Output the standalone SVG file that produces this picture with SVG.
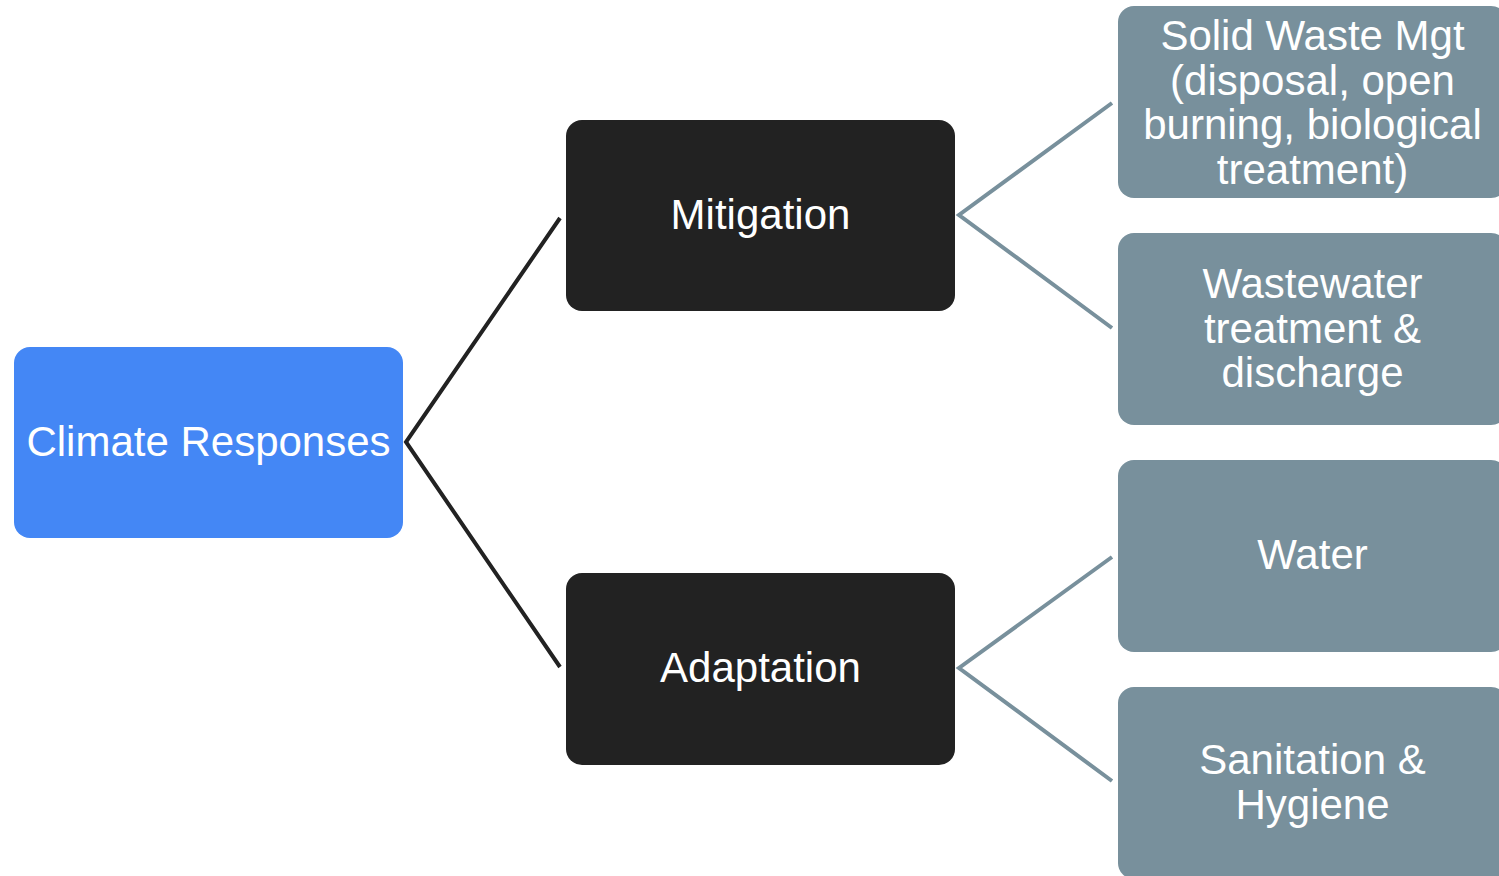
<svg xmlns="http://www.w3.org/2000/svg" width="1499" height="876" viewBox="0 0 1499 876">
<style>
.t{font-family:"Liberation Sans",Arial,sans-serif;font-size:42px;fill:#ffffff;text-anchor:middle}
.root{fill:#4487f5}
.mid{fill:#222222}
.leaf{fill:#78909c}
.c1{stroke:#222222;stroke-width:4;fill:none}
.c2{stroke:#78909c;stroke-width:4;fill:none}
</style>
<rect width="1499" height="876" fill="#ffffff"/>
<g id="connectors">
<polyline class="c1" points="560,218 406,442 560,667"/>
<polyline class="c2" points="1112,103 959,215 1112,328"/>
<polyline class="c2" points="1112,557 959,668 1112,781"/>
</g>
<g id="climate-responses">
<rect class="root" x="14" y="347" width="389" height="191" rx="16"/>
<text class="t" x="208.5" y="456">Climate Responses</text>
</g>
<g id="mitigation">
<rect class="mid" x="566" y="120" width="389" height="191" rx="16"/>
<text class="t" x="760.5" y="229">Mitigation</text>
</g>
<g id="adaptation">
<rect class="mid" x="566" y="573" width="389" height="192" rx="16"/>
<text class="t" x="760.5" y="682">Adaptation</text>
</g>
<g id="solid-waste">
<rect class="leaf" x="1118" y="6" width="389" height="192" rx="16"/>
<text class="t" x="1312.5" y="50">Solid Waste Mgt</text>
<text class="t" x="1312.5" y="94.5">(disposal, open</text>
<text class="t" x="1312.5" y="139">burning, biological</text>
<text class="t" x="1312.5" y="183.5">treatment)</text>
</g>
<g id="wastewater">
<rect class="leaf" x="1118" y="233" width="389" height="192" rx="16"/>
<text class="t" x="1312.5" y="298">Wastewater</text>
<text class="t" x="1312.5" y="342.5">treatment &amp;</text>
<text class="t" x="1312.5" y="387">discharge</text>
</g>
<g id="water">
<rect class="leaf" x="1118" y="460" width="389" height="192" rx="16"/>
<text class="t" x="1312.5" y="569">Water</text>
</g>
<g id="sanitation">
<rect class="leaf" x="1118" y="687" width="389" height="192" rx="16"/>
<text class="t" x="1312.5" y="774">Sanitation &amp;</text>
<text class="t" x="1312.5" y="818.5">Hygiene</text>
</g>
</svg>
